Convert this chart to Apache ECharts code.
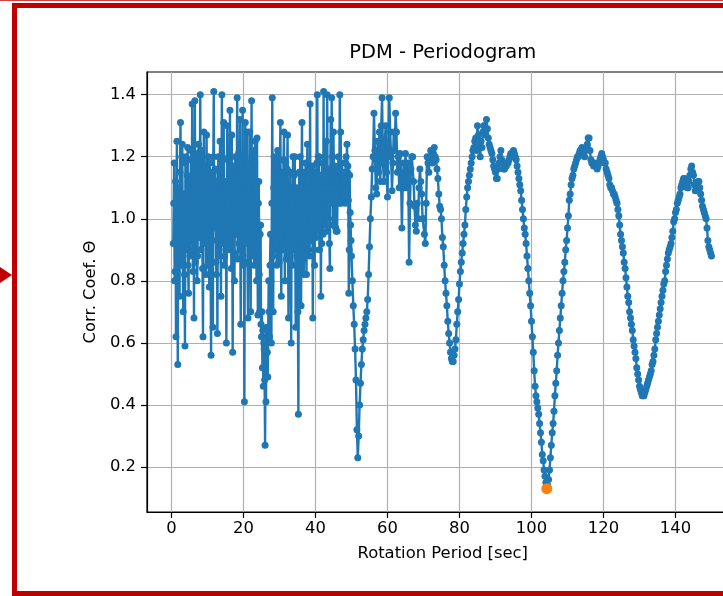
<!DOCTYPE html>
<html>
<head>
<meta charset="utf-8">
<script src="https://cdn.jsdelivr.net/npm/echarts@6/dist/echarts.min.js"></script>
<style>
    html, body { margin: 0; padding: 0; background: #fff; overflow: hidden; width: 723px; height: 596px; }
    #chart { position: absolute; left: 0; top: 0; width: 760px; height: 596px; }
    .topline { position: absolute; left: 0; top: 0; width: 723px; height: 1px; background: #d23c3c; }
    .frame { position: absolute; left: 12px; top: 3px; width: 900px; height: 593px; box-sizing: border-box;
             border: 5px solid #c00000; pointer-events: none; }
    .arrow { position: absolute; left: 0; top: 267px; width: 0; height: 0;
             border-top: 8px solid transparent; border-bottom: 8px solid transparent; border-left: 12px solid #c00000; }
</style>
</head>
<body>
<div id="chart"></div>
<div class="topline"></div>
<div class="frame"></div>
<div class="arrow"></div>
<script>
// periods 0.5 .. 49.875 every 0.125 s (noisy short-period part), two values per row-slot
var noisyStart = 0.5, noisyStep = 0.125;
var thetaNoisy = [
    0.92, 1.05, 1.18, 0.80,
    0.83, 1.12, 0.62, 0.95, 1.25, 0.88, 0.53, 1.02,
    1.10, 0.86, 0.75, 1.15, 1.31, 0.98, 0.85, 1.20,
    1.24, 0.92, 0.70, 1.08, 1.05, 0.82, 0.59, 1.18,
    1.20, 0.96, 0.90, 1.14, 1.23, 0.85, 0.76, 1.06,
    1.12, 0.88, 0.95, 1.19, 1.22, 0.98, 1.37, 0.90,
    0.83, 1.10, 0.68, 1.02, 1.38, 0.86, 0.98, 1.21,
    1.15, 0.80, 0.88, 1.12, 1.24, 0.94, 0.95, 1.16,
    1.40, 0.90, 1.02, 1.22, 1.18, 0.84, 0.62, 1.08,
    1.28, 0.96, 0.92, 1.17, 1.10, 0.82, 1.27, 0.99,
    0.85, 1.13, 1.20, 0.91, 0.78, 1.18, 1.05, 0.87,
    0.56, 1.05, 1.15, 0.93, 0.65, 1.20, 1.41, 0.97,
    0.98, 1.16, 1.12, 0.86, 0.82, 1.10, 0.63, 1.04,
    1.20, 0.88, 0.90, 1.15, 1.25, 0.94, 0.75, 1.09,
    1.40, 0.92, 1.00, 1.19, 1.31, 0.85, 0.88, 1.12,
    1.10, 0.96, 0.60, 1.07, 1.30, 0.90, 1.05, 1.20,
    0.90, 1.11, 1.35, 0.93, 1.10, 0.84, 1.27, 1.00,
    0.57, 1.14, 1.15, 0.89, 0.80, 1.17, 1.20, 0.95,
    0.95, 1.13, 1.39, 0.87, 1.05, 1.21, 0.92, 1.08,
    1.32, 0.90, 0.66, 1.14, 1.18, 0.97, 1.35, 0.88,
    0.85, 1.10, 0.41, 1.02, 1.31, 0.92, 0.95, 1.18,
    1.28, 0.86, 0.68, 1.06, 1.10, 0.94, 1.28, 1.00,
    0.70, 1.15, 1.38, 0.90, 1.00, 1.12, 1.22, 0.88,
    0.85, 1.18, 1.25, 0.95, 1.10, 0.80, 1.26, 0.92,
    0.69, 1.05, 1.12, 0.82, 0.70, 0.95, 0.98, 0.66,
    0.62, 0.70, 0.52, 0.64, 0.46, 0.60, 0.58, 0.48,
    0.27, 0.53, 0.41, 0.62, 0.65, 0.57, 0.49, 0.64,
    0.80, 0.70, 0.62, 0.85, 0.95, 0.80, 0.60, 1.05,
    1.39, 0.88, 0.70, 1.10, 1.20, 0.94, 0.90, 1.16,
    1.18, 0.92, 0.85, 1.20, 1.22, 0.98, 1.05, 0.86,
    0.95, 1.14, 1.31, 0.97, 0.75, 1.08, 1.15, 0.90,
    1.05, 1.19, 1.28, 0.93, 0.80, 1.12, 1.18, 0.87,
    0.95, 1.16, 1.27, 0.94, 0.68, 1.05, 1.10, 0.88,
    1.15, 0.96, 0.60, 1.10, 1.05, 0.85, 1.20, 0.99,
    0.90, 1.14, 1.20, 0.92, 0.65, 1.08, 1.10, 0.88,
    0.95, 0.70, 0.37, 0.98, 1.15, 0.90, 1.20, 1.02,
    0.72, 1.12, 1.31, 0.95, 1.10, 0.87, 0.82, 1.15,
    1.05, 0.92, 1.18, 0.98, 0.82, 1.10, 1.24, 0.90,
    0.95, 1.16, 1.12, 0.88, 1.37, 1.00, 1.10, 0.93,
    0.98, 1.17, 0.68, 1.04, 1.15, 0.90, 0.85, 1.12,
    1.15, 0.94, 1.05, 1.18, 1.40, 0.96, 1.20, 1.08,
    1.20, 0.90, 1.02, 1.14, 0.75, 1.06, 0.92, 1.18,
    1.10, 0.95, 1.41, 1.03, 1.10, 1.20, 0.98, 1.12,
    1.25, 0.96, 1.40, 1.08, 1.05, 1.16, 1.10, 0.92,
    0.84, 1.15, 1.32, 1.05, 1.39, 1.12, 1.20, 0.98,
    1.28, 1.10, 1.00, 1.17, 1.12, 0.97, 0.96, 1.13,
    0.96, 1.08, 1.15, 1.20, 1.05, 1.12, 1.40, 1.15,
    1.28, 1.05, 1.10, 1.18, 1.10, 1.06, 1.13, 1.15,
    1.13, 1.08, 1.05, 1.18, 1.20, 1.10, 1.24, 1.15,
    1.17, 1.06, 0.76, 0.90, 1.14, 1.02, 0.98, 0.93
];

// periods 50 .. 150 every 0.25 s, one row per 2 s
var smoothStart = 50, smoothStep = 0.25;
var thetaSmooth = [
    0.88, 0.80, 0.72, 0.66, 0.58, 0.48, 0.32, 0.23,
    0.30, 0.40, 0.47, 0.53, 0.58, 0.61, 0.64, 0.66,
    0.68, 0.70, 0.74, 0.82, 0.91, 1.00, 1.07, 1.16,
    1.20, 1.34, 1.22, 1.10, 1.08, 1.25, 1.15, 1.28,
    1.12, 1.30, 1.39, 1.18, 1.12, 1.25, 1.30, 1.15,
    1.07, 1.22, 1.39, 1.28, 1.20, 1.09, 1.18, 1.28,
    1.22, 1.34, 1.28, 1.15, 1.20, 1.10, 1.21, 1.15,
    0.97, 1.12, 1.18, 1.10, 1.21, 1.15, 1.10, 1.18,
    0.86, 1.05, 1.16, 1.20, 1.20, 1.12, 1.04, 0.98,
    0.96, 1.05, 1.00, 1.10, 1.16, 1.12, 1.08, 1.00,
    1.00, 0.95, 0.92, 1.05, 1.20, 1.18, 1.15, 1.20,
    1.22, 1.20, 1.18, 1.21, 1.23, 1.20, 1.19, 1.16,
    1.13, 1.08, 1.04, 1.03, 1.00, 0.94, 0.91, 0.85,
    0.80, 0.76, 0.72, 0.67, 0.63, 0.60, 0.57, 0.55,
    0.54, 0.54, 0.56, 0.58, 0.61, 0.66, 0.70, 0.74,
    0.79, 0.83, 0.86, 0.89, 0.92, 0.95, 0.98, 1.03,
    1.07, 1.10, 1.12, 1.14, 1.16, 1.18, 1.20, 1.22,
    1.23, 1.25, 1.26, 1.22, 1.30, 1.27, 1.24, 1.20,
    1.25, 1.23, 1.28, 1.30, 1.30, 1.27, 1.32, 1.29,
    1.26, 1.24, 1.23, 1.22, 1.21, 1.19, 1.17, 1.16,
    1.15, 1.13, 1.13, 1.16, 1.18, 1.20, 1.22, 1.19,
    1.18, 1.16, 1.16, 1.17, 1.17, 1.18, 1.18, 1.19,
    1.20, 1.21, 1.21, 1.20, 1.22, 1.21, 1.20, 1.19,
    1.17, 1.15, 1.13, 1.11, 1.09, 1.06, 1.03, 1.00,
    0.97, 0.95, 0.92, 0.88, 0.84, 0.80, 0.76, 0.72,
    0.67, 0.62, 0.57, 0.51, 0.46, 0.43, 0.41, 0.39,
    0.37, 0.34, 0.31, 0.28, 0.24, 0.22, 0.19, 0.17,
    0.15, 0.13, 0.14, 0.16, 0.19, 0.23, 0.27, 0.31,
    0.34, 0.38, 0.43, 0.47, 0.51, 0.56, 0.60, 0.64,
    0.68, 0.72, 0.76, 0.80, 0.83, 0.86, 0.90, 0.93,
    0.97, 1.01, 1.06, 1.08, 1.11, 1.13, 1.14, 1.16,
    1.17, 1.18, 1.19, 1.20, 1.20, 1.21, 1.22, 1.22,
    1.23, 1.22, 1.21, 1.20, 1.22, 1.23, 1.24, 1.26,
    1.26, 1.22, 1.19, 1.18, 1.18, 1.17, 1.18, 1.17,
    1.17, 1.16, 1.17, 1.18, 1.19, 1.20, 1.21, 1.20,
    1.19, 1.18, 1.18, 1.16, 1.15, 1.14, 1.13, 1.11,
    1.10, 1.10, 1.09, 1.08, 1.08, 1.07, 1.06, 1.05,
    1.03, 1.01, 0.98, 0.95, 0.93, 0.91, 0.89, 0.86,
    0.84, 0.81, 0.78, 0.75, 0.73, 0.70, 0.68, 0.66,
    0.64, 0.61, 0.59, 0.57, 0.55, 0.52, 0.50, 0.48,
    0.46, 0.45, 0.44, 0.43, 0.43, 0.43, 0.44, 0.45,
    0.46, 0.47, 0.48, 0.49, 0.50, 0.51, 0.53, 0.54,
    0.56, 0.58, 0.61, 0.63, 0.65, 0.67, 0.69, 0.71,
    0.73, 0.75, 0.77, 0.79, 0.80, 0.83, 0.85, 0.87,
    0.89, 0.90, 0.91, 0.92, 0.94, 0.96, 0.99, 1.00,
    1.02, 1.03, 1.05, 1.06, 1.07, 1.08, 1.10, 1.11,
    1.12, 1.13, 1.13, 1.12, 1.11, 1.10, 1.10, 1.12,
    1.14, 1.16, 1.17, 1.15, 1.14, 1.11, 1.09, 1.10,
    1.11, 1.12, 1.12, 1.10, 1.08, 1.06, 1.04, 1.03,
    1.02, 1.01, 1.00, 0.97, 0.93, 0.91, 0.90, 0.89,
    0.88
];

var xTicks = [0, 20, 40, 60, 80, 100, 120, 140];
var yTicks = [0.2, 0.4, 0.6, 0.8, 1.0, 1.2, 1.4];

var points = [];
thetaNoisy.forEach(function(v, i) { points.push([noisyStart + i * noisyStep, v]); });
thetaSmooth.forEach(function(v, i) { points.push([smoothStart + i * smoothStep, v]); });

// best period = minimum theta
var best = points[0];
points.forEach(function(p) { if (p[1] < best[1]) best = p; });

var ink = '#000000';
var blue = '#1f77b4';
var orange = '#ff7f0e';
var gridCol = '#b0b0b0';
var font = 'DejaVu Sans';

var chart = echarts.init(document.getElementById('chart'), null, { renderer: 'canvas' });

chart.setOption({
    animation: false,
    textStyle: { fontFamily: font },
    graphic: [{
        type: 'text',
        x: 442.7,
        y: 53,
        style: {
            text: 'PDM - Periodogram',
            fill: ink,
            fontFamily: font,
            fontSize: 19.5,
            align: 'center',
            verticalAlign: 'middle'
        }
    }],
    grid: {
        left: 147, top: 72, width: 591.5, height: 440,
        show: true, borderColor: ink, borderWidth: 1.2, backgroundColor: 'transparent'
    },
    xAxis: {
        type: 'value',
        min: -6.8, max: 157.5, splitNumber: 8,
        name: 'Rotation Period [sec]',
        nameLocation: 'middle',
        nameGap: 34,
        nameTextStyle: { fontSize: 16.4, color: ink, fontFamily: font },
        axisLine: { onZero: false, lineStyle: { color: ink, width: 1.2 } },
        axisTick: { show: true, inside: false, length: 6, customValues: xTicks, lineStyle: { color: ink, width: 1.2 } },
        axisLabel: {
            customValues: xTicks, fontSize: 16.4, color: ink, margin: 9, fontFamily: font,
            formatter: function(v) { return xTicks.indexOf(v) >= 0 ? String(v) : ''; }
        },
        splitLine: { show: true, lineStyle: { color: gridCol, width: 1.2 } }
    },
    yAxis: {
        type: 'value',
        min: 0.055, max: 1.473, splitNumber: 7,
        name: 'Corr. Coef. Θ',
        nameLocation: 'middle',
        nameRotate: 90,
        nameGap: 44,
        nameTextStyle: { fontSize: 16.4, color: ink, fontFamily: font },
        axisLine: { show: true, onZero: false, lineStyle: { color: ink, width: 1.2 } },
        axisTick: { show: true, inside: false, length: 6, customValues: yTicks, lineStyle: { color: ink, width: 1.2 } },
        axisLabel: {
            customValues: yTicks, fontSize: 16.4, color: ink, margin: 11, fontFamily: font,
            formatter: function(v) { return v.toFixed(1); }
        },
        splitLine: { show: true, lineStyle: { color: gridCol, width: 1.2 } }
    },
    series: [
        {
            name: 'theta',
            type: 'line',
            data: points,
            symbol: 'circle',
            symbolSize: 7,
            showSymbol: true,
            itemStyle: { color: blue, borderWidth: 0 },
            lineStyle: { color: blue, width: 2.4 },
            emphasis: { disabled: true },
            z: 2
        },
        {
            name: 'best',
            type: 'scatter',
            data: [best],
            symbolSize: 11,
            itemStyle: { color: orange, opacity: 1 },
            emphasis: { disabled: true },
            z: 3
        }
    ]
});
window.addEventListener('resize', function() { chart.resize(); });
</script>
</body>
</html>
